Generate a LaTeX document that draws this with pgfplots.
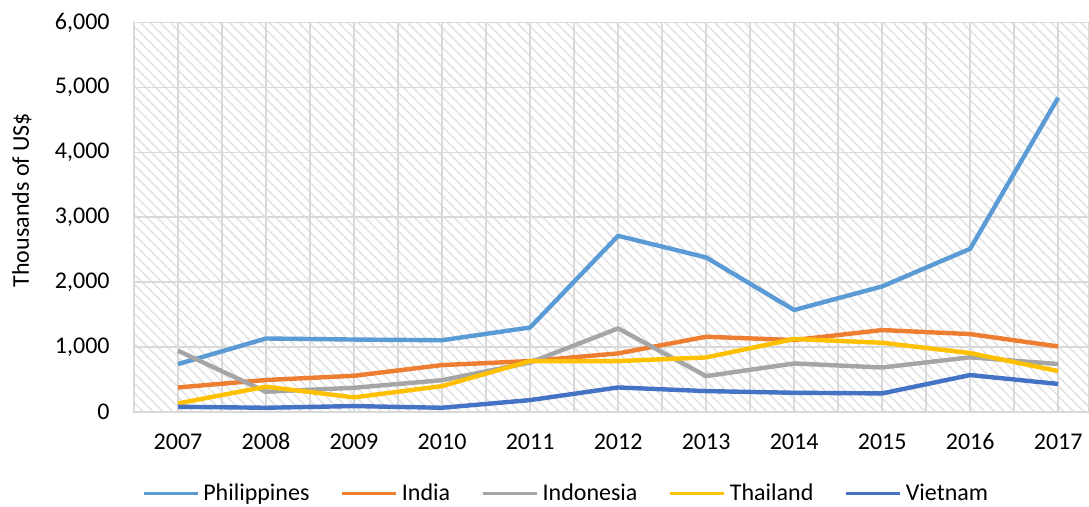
\documentclass[border=0pt]{standalone}
\usepackage{fontspec}
\setmainfont{Carlito}
\usepackage{pgfplots}
\pgfplotsset{compat=1.18}
\usetikzlibrary{patterns.meta}

\definecolor{cPhil}{HTML}{5B9BD5}
\definecolor{cInd}{HTML}{ED7D31}
\definecolor{cIdn}{HTML}{A5A5A5}
\definecolor{cTha}{HTML}{FFC000}
\definecolor{cVie}{HTML}{4472C4}
\definecolor{gridc}{HTML}{D9D9D9}

\newcommand{\chartfont}{\fontsize{12bp}{14bp}\selectfont}

\begin{document}
\begin{tikzpicture}
\path[use as bounding box] (-67bp,-47.15bp) rectangle (477.4bp,205.85bp);
\begin{axis}[
    at={(0,0)}, anchor=south west,
    scale only axis,
    width=477.4bp, height=194.5bp,
    xmin=-0.5, xmax=10.35,
    ymin=0, ymax=6000,
    xtick={0,...,10},
    xticklabels={2007,2008,2009,2010,2011,2012,2013,2014,2015,2016,2017},
    minor xtick={-0.5,0.5,...,10.5},
    ytick={0,1000,...,6000},
    xmajorgrids, xminorgrids, ymajorgrids,
    grid style={gridc, line width=0.75bp},
    minor grid style={gridc, line width=0.75bp},
    axis line style={gridc, line width=0.75bp},
    major tick length=0pt, minor tick length=0pt,
    tick style={draw=none},
    /pgf/number format/1000 sep={,},
    /pgf/number format/assume math mode=true,
    tick label style={font=\chartfont, inner sep=0pt},
    yticklabel style={anchor=east, xshift=-12bp},
    xticklabel style={anchor=north, yshift=-10.7bp},
    ylabel={Thousands of US\$},
    every axis y label/.style={at={(axis description cs:0,0.544)}, xshift=-56bp, rotate=90, anchor=center, font=\chartfont},
    axis background/.style={pattern={Lines[angle=-45, distance=3.5bp, line width=0.8bp]}, pattern color=black!11},
    legend style={at={(axis description cs:0.4514,0)}, anchor=center, yshift=-41bp,
        draw=none, fill=none, font=\chartfont, legend columns=-1,
        nodes={inner sep=0pt},
        /tikz/every odd column/.append style={column sep=2bp},
        /tikz/every even column/.append style={column sep=15.6bp}},
    legend image code/.code={\draw[#1, line width=1.6bp] (0bp,0bp) -- (27bp,0bp);},
    every axis plot/.append style={line width=2.2bp, line join=round, mark=none},
]
\addplot[cPhil] coordinates {(0,735) (1,1130) (2,1114) (3,1103) (4,1300) (5,2714) (6,2380) (7,1569) (8,1933) (9,2514) (10,4843)};
\addplot[cInd] coordinates {(0,375) (1,490) (2,555) (3,720) (4,782) (5,900) (6,1157) (7,1106) (8,1260) (9,1198) (10,1007)};
\addplot[cIdn] coordinates {(0,941) (1,309) (2,370) (3,487) (4,760) (5,1286) (6,550) (7,745) (8,683) (9,840) (10,736)};
\addplot[cTha] coordinates {(0,129) (1,387) (2,222) (3,396) (4,782) (5,782) (6,838) (7,1122) (8,1064) (9,905) (10,628)};
\addplot[cVie] coordinates {(0,77) (1,62) (2,88) (3,62) (4,180) (5,375) (6,319) (7,293) (8,283) (9,566) (10,429)};
\legend{Philippines, India, Indonesia, Thailand, Vietnam}
\end{axis}
\end{tikzpicture}
\end{document}
